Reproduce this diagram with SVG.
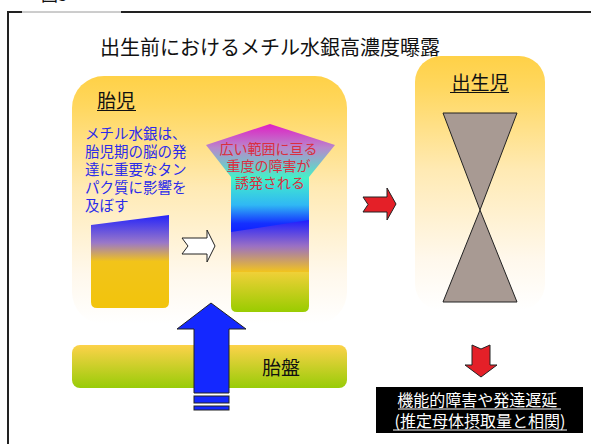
<svg xmlns="http://www.w3.org/2000/svg" width="591" height="444" viewBox="0 0 591 444">
  <style>
    text { font-family: "Noto Sans CJK JP", "Liberation Sans", sans-serif; }
    .title { font-size: 20px; fill: #111; }
    .label { font-size: 19px; fill: #111; }
    .blue { font-size: 14.5px; fill: #2B2BEA; }
    .red { font-size: 14px; fill: #DA2E40; text-anchor: middle; }
    .white { font-size: 16px; fill: #fff; text-anchor: middle; }
    .ul { stroke: #111; stroke-width: 1.2; }
    .arrow { stroke: #222; stroke-width: 1; stroke-linejoin: miter; }
  </style>
  <defs>
    <linearGradient id="boxFade" x1="0" y1="0" x2="0" y2="1">
      <stop offset="0" stop-color="#FFD147"/>
      <stop offset="0.12" stop-color="#FFD75E"/>
      <stop offset="0.45" stop-color="#FFEAB4"/>
      <stop offset="0.8" stop-color="#FFF8EC"/>
      <stop offset="1" stop-color="#FFFFFF"/>
    </linearGradient>
    <linearGradient id="placenta" x1="0" y1="0" x2="0" y2="1">
      <stop offset="0" stop-color="#FDD24A"/>
      <stop offset="1" stop-color="#98CC08"/>
    </linearGradient>
    <linearGradient id="brainLeft" gradientUnits="userSpaceOnUse" x1="0" y1="215" x2="0" y2="308">
      <stop offset="0" stop-color="#2424FA"/>
      <stop offset="0.3" stop-color="#9A78C8"/>
      <stop offset="0.5" stop-color="#F2C41A"/>
      <stop offset="1" stop-color="#F2C40C"/>
    </linearGradient>
    <linearGradient id="damageTop" gradientUnits="userSpaceOnUse" x1="0" y1="124" x2="0" y2="232">
      <stop offset="0" stop-color="#E01EC4"/>
      <stop offset="0.22" stop-color="#B888CC"/>
      <stop offset="0.5" stop-color="#44F0C8"/>
      <stop offset="0.75" stop-color="#30B8F4"/>
      <stop offset="0.92" stop-color="#1430FF"/>
      <stop offset="1" stop-color="#1020FF"/>
    </linearGradient>
    <linearGradient id="damageMid" gradientUnits="userSpaceOnUse" x1="0" y1="220" x2="0" y2="272">
      <stop offset="0" stop-color="#1E1EFF"/>
      <stop offset="0.5" stop-color="#9A70C4"/>
      <stop offset="1" stop-color="#F2C41E"/>
    </linearGradient>
    <linearGradient id="damageLow" gradientUnits="userSpaceOnUse" x1="0" y1="272" x2="0" y2="312">
      <stop offset="0" stop-color="#F0D038"/>
      <stop offset="1" stop-color="#99CC00"/>
    </linearGradient>
  </defs>

  <!-- figure frame with caption tab -->
  <g id="frame">
    <text x="41" y="1" style="font-size:17px;fill:#111">図3</text>
    <path d="M8 444 V12 H22" fill="none" stroke="#222" stroke-width="2"/>
    <line x1="22" y1="12" x2="121" y2="12" stroke="#9a9a9a" stroke-width="1"/>
    <line x1="121" y1="12" x2="591" y2="12" stroke="#222" stroke-width="2"/>
  </g>

  <g id="title">
    <text class="title" x="100" y="55">出生前におけるメチル水銀高濃度曝露</text>
  </g>

  <!-- fetus panel -->
  <g id="fetus">
    <rect x="72" y="76" width="275" height="248" rx="32" fill="url(#boxFade)"/>
    <text class="label" x="97" y="108">胎児</text>
    <line class="ul" x1="97" y1="110.5" x2="136" y2="110.5"/>
    <text class="blue">
      <tspan x="85" y="139">メチル水銀は、</tspan>
      <tspan x="85" y="157">胎児期の脳の発</tspan>
      <tspan x="85" y="175">達に重要なタン</tspan>
      <tspan x="85" y="193">パク質に影響を</tspan>
      <tspan x="85" y="211">及ぼす</tspan>
    </text>
  </g>

  <g id="brain-normal">
    <path d="M91 225 L169 215 V302 Q169 308 163 308 H97 Q91 308 91 302 Z" fill="url(#brainLeft)"/>
  </g>

  <g id="brain-damaged">
    <path d="M270 124 L335 145 L309 177 V232 H231 V177 L206 145 Z" fill="url(#damageTop)"/>
    <path d="M231 232 L309 220 V272 H231 Z" fill="url(#damageMid)"/>
    <path d="M231 272 H309 V306 Q309 312 303 312 H237 Q231 312 231 306 Z" fill="url(#damageLow)"/>
    <text class="red">
      <tspan x="270" y="154">広い範囲に亘る</tspan>
      <tspan x="270" y="171">重度の障害が</tspan>
      <tspan x="270" y="188">誘発される</tspan>
    </text>
  </g>

  <!-- newborn panel -->
  <g id="newborn">
    <rect x="415" y="56" width="130" height="254" rx="26" fill="url(#boxFade)"/>
    <text class="label" x="480" y="90" text-anchor="middle">出生児</text>
    <line class="ul" x1="450" y1="92.5" x2="509" y2="92.5"/>
    <path d="M443 113 H517 L480 210 Z M480 210 L517 302 H443 Z" fill="#A89A93" stroke="#222" stroke-width="1" stroke-linejoin="miter"/>
  </g>

  <!-- placenta band -->
  <g id="placenta-band">
    <rect x="72" y="345" width="275" height="43" rx="8" fill="url(#placenta)"/>
    <text class="label" x="281" y="375" text-anchor="middle">胎盤</text>
  </g>

  <!-- outcome box -->
  <g id="outcome">
    <rect x="376" y="387" width="207" height="46" fill="#000"/>
    <text class="white">
      <tspan x="479" y="406">機能的障害や発達遅延</tspan>
      <tspan x="480" y="427">(推定母体摂取量と相関)</tspan>
    </text>
    <line x1="398" y1="409" x2="561" y2="409" stroke="#fff" stroke-width="1"/>
    <line x1="393" y1="430" x2="567" y2="430" stroke="#fff" stroke-width="1"/>
  </g>

  <g id="connectors">
    <!-- white development arrow -->
    <path class="arrow" d="M182 238 H207 V230 L215 246 L207 262 V254 H182 L188 246 Z" fill="#fff"/>
    <!-- red transition arrow -->
    <path class="arrow" d="M363 197 H387 V188 L396 204 L387 220 V212 H363 L368 204.5 Z" fill="#E42028"/>
    <!-- red downward arrow -->
    <path class="arrow" d="M472 345 L481 349 L490 345 V365 H497 L481 377 L465 365 H472 Z" fill="#E42028"/>
    <!-- blue exposure arrow through placenta -->
    <path class="arrow" d="M211 303 L246 329 H229 V393 H194 V329 H177 Z" fill="#1428FF"/>
    <rect class="arrow" x="194" y="396" width="35" height="7" fill="#1428FF"/>
    <rect class="arrow" x="194" y="406" width="35" height="4" fill="#1428FF"/>
  </g>
</svg>
